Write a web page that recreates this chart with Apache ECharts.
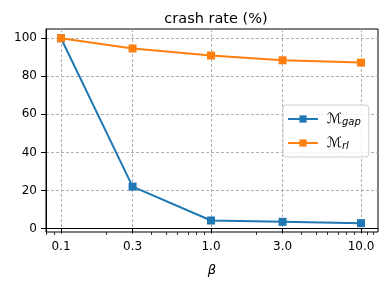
<!DOCTYPE html>
<html><head><meta charset="utf-8">
<script src="https://cdn.jsdelivr.net/npm/echarts@6/dist/echarts.min.js"></script>
<style>html,body{margin:0;padding:0;background:#fff}#c{width:390px;height:289px}</style>
</head><body><div id="c"></div>
<script>
const betas = [0.1, 0.3, 1.0, 3.0, 10.0];
const gapValues = [100, 22, 4.2, 3.5, 2.8];
const rlValues = [100, 94.6, 90.9, 88.4, 87.2];
const xTicks = [0.1, 0.3, 1.0, 3.0, 10.0];
const xMinorTicks = [0.08, 0.09, 0.2, 0.4, 0.5, 0.6, 0.7, 0.8, 0.9, 2, 4, 5, 6, 7, 8, 9, 11, 12];
const yTicks = [0, 20, 40, 60, 80, 100];
const seriesNames = ['M_gap', 'M_rl'];

const chart = echarts.init(document.getElementById('c'), null, {renderer: 'canvas'});
const font = 'DejaVu Sans';
const xCommon = {type: 'log', logBase: 10, min: 0.0794, max: 12.98, gridIndex: 0, position: 'bottom'};
chart.setOption({
  animation: false,
  backgroundColor: '#fff',
  title: {
    text: 'crash rate (%)', left: 211, top: 7, textAlign: 'center',
    textStyle: {fontFamily: font, fontSize: 14.5, fontWeight: 'normal', color: '#000'}
  },
  grid: {left: 46, right: 12, top: 29, bottom: 57, show: true, borderColor: '#000', borderWidth: 1, backgroundColor: 'transparent'},
  legend: {
    orient: 'vertical', left: 283, top: 105,
    itemWidth: 30, itemHeight: 9, itemGap: 9,
    padding: [7, 8, 6, 4],
    backgroundColor: 'rgba(255,255,255,0.8)', borderColor: '#d0d0d0', borderWidth: 1, borderRadius: 3,
    data: seriesNames,
    formatter: function (n) {
      return n === 'M_gap' ? '{m|ℳ}{s|gap}' : '{m|ℳ}{s|rl}';
    },
    textStyle: {
      fontFamily: font, color: '#000',
      rich: {
        m: {fontFamily: 'DejaVu Sans', fontStyle: 'italic', fontSize: 14, color: '#000', padding: [0, 0, 0, 4]},
        s: {fontFamily: 'DejaVu Sans', fontStyle: 'italic', fontSize: 10, color: '#000', padding: [6, 0, 0, 0]}
      }
    }
  },
  xAxis: [
    Object.assign({}, xCommon, {
      name: 'β', nameLocation: 'middle', nameGap: 32,
      nameTextStyle: {fontFamily: 'DejaVu Sans', fontStyle: 'italic', fontSize: 13, color: '#000'},
      axisLine: {show: true, lineStyle: {color: '#000', width: 1}},
      axisTick: {show: true, inside: false, length: 5, lineStyle: {color: '#000', width: 1}, customValues: xTicks},
      axisLabel: {customValues: xTicks, fontFamily: font, fontSize: 12, color: '#000', margin: 9,
        formatter: v => Number(v).toFixed(1)},
      splitLine: {show: true, lineStyle: {color: '#b0b0b0', type: [3, 2], width: 1}},
      minorTick: {show: false}, minorSplitLine: {show: false}
    }),
    Object.assign({}, xCommon, {
      axisLine: {show: false},
      axisTick: {show: true, length: 3, lineStyle: {color: '#000', width: 0.8}, customValues: xMinorTicks},
      axisLabel: {show: false},
      splitLine: {show: false}
    })
  ],
  yAxis: {
    type: 'value', min: -1.85, max: 104.85,
    axisLine: {show: true, lineStyle: {color: '#000', width: 1}},
    axisTick: {show: true, length: 5, lineStyle: {color: '#000', width: 1}, customValues: yTicks},
    axisLabel: {customValues: yTicks, fontFamily: font, fontSize: 12, color: '#000', margin: 9},
    splitLine: {show: true, lineStyle: {color: '#b0b0b0', type: [3, 2], width: 1}}
  },
  series: [
    {
      name: seriesNames[0], type: 'line', xAxisIndex: 0,
      data: betas.map((b, i) => [b, gapValues[i]]),
      symbol: 'rect', symbolSize: 8, color: '#1f77b4',
      lineStyle: {width: 2, color: '#1f77b4'}, itemStyle: {color: '#1f77b4'}
    },
    {
      name: seriesNames[1], type: 'line', xAxisIndex: 0,
      data: betas.map((b, i) => [b, rlValues[i]]),
      symbol: 'rect', symbolSize: 8, color: '#ff7f0e',
      lineStyle: {width: 2, color: '#ff7f0e'}, itemStyle: {color: '#ff7f0e'}
    }
  ]
});
</script></body></html>
